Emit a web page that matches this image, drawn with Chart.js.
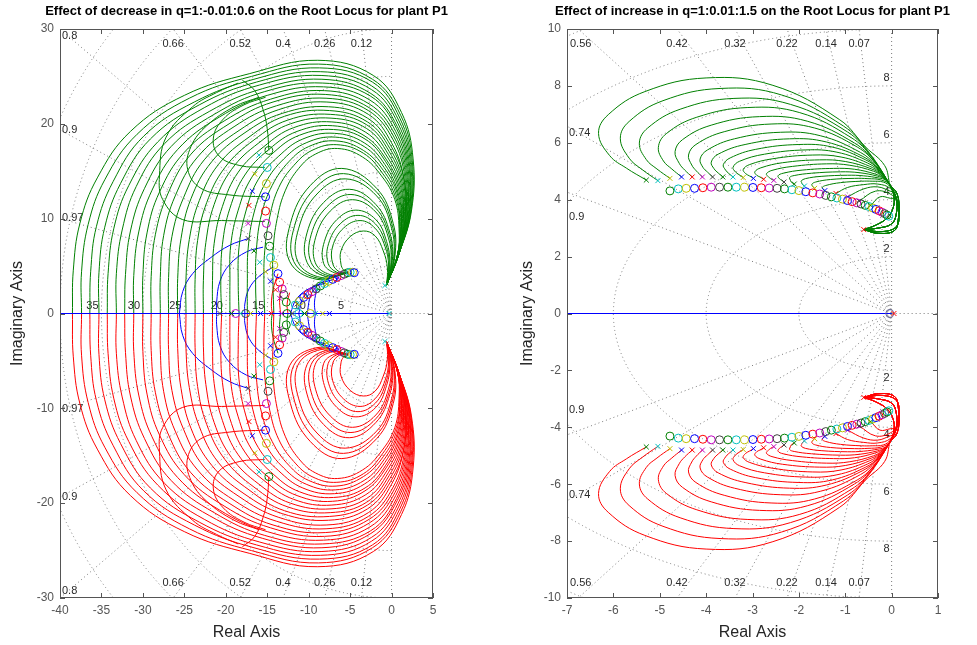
<!DOCTYPE html>
<html>
<head>
<meta charset="utf-8">
<script src="https://cdn.jsdelivr.net/npm/chart.js@4.4.0/dist/chart.umd.min.js"></script>
<style>
  body { margin: 0; background: #fff; width: 977px; height: 645px; overflow: hidden; position: relative; }
  canvas { position: absolute; top: 0; }
  #left { left: 0; }
  #right { left: 490px; }
</style>
</head>
<body>
<canvas id="left" width="490" height="645"></canvas>
<canvas id="right" width="487" height="645"></canvas>
<script>
// ---------- left plot: q = 1 : -0.01 : 0.6 (upper half, lower half is the conjugate) ----------
// big outer branches, from the real axis round to the pole near -0.6+3j
const leftArcs = [
  [[-38.5,0],[-38.4,4.5],[-37.6,9.5],[-35.5,14.3],[-31.5,19.2],[-25.0,23.0],[-17.1,25.3],[-8.9,26.7],[-2.2,25.1],[1.2,21.2],[2.6,16.3],[2.4,10.8],[0.9,6.3],[-0.6,3.0]],
  [[-37.4,0],[-37.4,4.4],[-36.6,9.4],[-34.6,14.1],[-30.7,18.9],[-24.4,22.7],[-16.9,25.0],[-8.8,26.3],[-2.3,24.7],[1.1,20.9],[2.5,16.1],[2.3,10.7],[0.9,6.3],[-0.6,3.0]],
  [[-36.4,0],[-36.3,4.4],[-35.6,9.2],[-33.6,13.9],[-29.9,18.7],[-23.8,22.3],[-16.6,24.7],[-8.7,25.9],[-2.3,24.4],[1.0,20.6],[2.4,15.9],[2.3,10.6],[0.9,6.3],[-0.6,3.0]],
  [[-35.3,0],[-35.3,4.3],[-34.6,9.1],[-32.7,13.7],[-29.1,18.4],[-23.2,22.0],[-16.3,24.4],[-8.6,25.5],[-2.4,24.0],[0.9,20.3],[2.3,15.7],[2.2,10.6],[0.9,6.3],[-0.6,3.0]],
  [[-34.3,0],[-34.2,4.2],[-33.5,9.0],[-31.7,13.5],[-28.2,18.1],[-22.6,21.7],[-15.9,24.1],[-8.5,25.1],[-2.4,23.6],[0.8,20.0],[2.2,15.5],[2.1,10.5],[0.9,6.3],[-0.6,3.0]],
  [[-33.2,0],[-33.2,4.2],[-32.5,8.8],[-30.8,13.4],[-27.4,17.9],[-22.0,21.3],[-15.6,23.7],[-8.4,24.7],[-2.5,23.2],[0.7,19.7],[2.1,15.4],[2.1,10.4],[0.9,6.3],[-0.6,3.0]],
  [[-32.2,0],[-32.1,4.1],[-31.5,8.7],[-29.8,13.2],[-26.6,17.6],[-21.4,21.0],[-15.3,23.4],[-8.3,24.3],[-2.5,22.9],[0.6,19.5],[2.0,15.2],[2.0,10.3],[0.9,6.3],[-0.6,3.0]],
  [[-31.1,0],[-31.1,4.0],[-30.5,8.6],[-28.9,13.0],[-25.8,17.3],[-20.8,20.7],[-15.0,23.0],[-8.2,23.9],[-2.6,22.5],[0.5,19.2],[1.9,15.0],[1.9,10.3],[0.9,6.3],[-0.6,3.0]],
  [[-30.0,0],[-30.0,4.0],[-29.5,8.5],[-28.0,12.8],[-25.0,17.0],[-20.2,20.3],[-14.6,22.6],[-8.1,23.5],[-2.7,22.1],[0.4,18.9],[1.8,14.8],[1.9,10.2],[0.8,6.2],[-0.6,3.0]],
  [[-29.0,0],[-29.0,3.9],[-28.5,8.3],[-27.0,12.6],[-24.2,16.8],[-19.6,20.0],[-14.3,22.3],[-8.0,23.1],[-2.7,21.7],[0.3,18.6],[1.7,14.6],[1.8,10.1],[0.8,6.2],[-0.6,3.0]],
  [[-27.9,0],[-27.9,3.8],[-27.5,8.2],[-26.1,12.4],[-23.4,16.5],[-19.0,19.7],[-13.9,21.9],[-7.9,22.7],[-2.8,21.4],[0.2,18.3],[1.6,14.4],[1.7,10.0],[0.8,6.2],[-0.6,3.0]],
  [[-26.9,0],[-26.9,3.8],[-26.5,8.1],[-25.1,12.2],[-22.6,16.2],[-18.4,19.3],[-13.6,21.5],[-7.8,22.3],[-2.8,21.0],[0.0,18.0],[1.5,14.2],[1.7,9.9],[0.8,6.2],[-0.6,3.0]],
  [[-25.8,0],[-25.8,3.7],[-25.4,7.9],[-24.2,12.1],[-21.7,16.0],[-17.8,19.0],[-13.2,21.1],[-7.6,21.8],[-2.9,20.6],[-0.1,17.7],[1.5,14.1],[1.6,9.9],[0.8,6.2],[-0.6,3.0]],
  [[-24.8,0],[-24.8,3.7],[-24.4,7.8],[-23.2,11.9],[-20.9,15.7],[-17.2,18.6],[-12.9,20.8],[-7.5,21.4],[-2.9,20.2],[-0.2,17.4],[1.4,13.9],[1.6,9.8],[0.8,6.2],[-0.6,3.0]],
  [[-23.7,0],[-23.7,3.6],[-23.4,7.7],[-22.3,11.7],[-20.1,15.4],[-16.6,18.3],[-12.5,20.4],[-7.4,21.0],[-3.0,19.9],[-0.3,17.1],[1.3,13.7],[1.5,9.7],[0.8,6.2],[-0.6,3.0]],
  [[-22.7,0],[-22.7,3.5],[-22.4,7.5],[-21.4,11.5],[-19.3,15.2],[-16.0,18.0],[-12.2,20.0],[-7.3,20.6],[-3.0,19.5],[-0.4,16.8],[1.2,13.5],[1.4,9.6],[0.8,6.2],[-0.6,3.0]],
  [[-21.6,0],[-21.6,3.5],[-21.4,7.4],[-20.4,11.3],[-18.5,14.9],[-15.4,17.6],[-11.8,19.6],[-7.2,20.2],[-3.1,19.1],[-0.5,16.5],[1.1,13.3],[1.4,9.5],[0.7,6.1],[-0.6,3.0]],
  [[-20.5,0],[-20.6,3.4],[-20.4,7.3],[-19.5,11.1],[-17.7,14.6],[-14.8,17.3],[-11.4,19.2],[-7.1,19.8],[-3.2,18.7],[-0.6,16.2],[1.0,13.1],[1.3,9.5],[0.7,6.1],[-0.6,3.0]],
  [[-19.5,0],[-19.5,3.3],[-19.4,7.2],[-18.5,10.9],[-16.9,14.3],[-14.2,17.0],[-11.1,18.8],[-7.0,19.4],[-3.2,18.4],[-0.7,16.0],[0.9,12.9],[1.2,9.4],[0.7,6.1],[-0.6,3.0]],
  [[-18.4,0],[-18.5,3.3],[-18.4,7.0],[-17.6,10.7],[-16.1,14.1],[-13.6,16.6],[-10.7,18.4],[-6.9,19.0],[-3.3,18.0],[-0.8,15.7],[0.8,12.7],[1.2,9.3],[0.7,6.1],[-0.6,3.0]],
  [[-17.4,0],[-17.4,3.2],[-17.3,6.9],[-16.6,10.6],[-15.2,13.8],[-13.0,16.3],[-10.3,18.0],[-6.8,18.6],[-3.3,17.6],[-0.9,15.4],[0.7,12.6],[1.1,9.2],[0.7,6.1],[-0.6,3.0]],
  [[-16.3,0],[-16.4,3.1],[-16.3,6.8],[-15.7,10.4],[-14.4,13.5],[-12.4,16.0],[-10.0,17.6],[-6.7,18.2],[-3.4,17.2],[-1.0,15.1],[0.6,12.4],[1.0,9.2],[0.7,6.1],[-0.6,3.0]],
  [[-15.3,0],[-15.4,3.1],[-15.3,6.6],[-14.7,10.2],[-13.6,13.3],[-11.8,15.6],[-9.6,17.2],[-6.6,17.8],[-3.4,16.9],[-1.1,14.8],[0.5,12.2],[1.0,9.1],[0.7,6.1],[-0.6,3.0]],
  [[-14.2,0],[-14.3,3.0],[-14.3,6.5],[-13.8,10.0],[-12.8,13.0],[-11.2,15.3],[-9.2,16.8],[-6.5,17.4],[-3.5,16.5],[-1.2,14.5],[0.4,12.0],[0.9,9.0],[0.7,6.1],[-0.6,3.0]]
];
// loops from the pole that curl back into the zero cluster near -5.3+4.3j
const leftLoops = [
  [[-0.6,3.0],[-0.5,4.8],[-1.0,6.6],[-2.0,8.2],[-3.4,8.7],[-5.0,8.1],[-6.1,6.6],[-6.1,5.2],[-5.8,4.6],[-5.3,4.3]],
  [[-0.6,3.0],[-0.35,5.0],[-0.8,7.1],[-2.0,9.0],[-3.8,9.8],[-5.8,9.0],[-7.1,7.1],[-7.1,5.25],[-6.3,4.4],[-5.3,4.3]],
  [[-0.6,3.0],[-0.28,5.1],[-0.7,7.35],[-1.95,9.45],[-4.05,10.35],[-6.2,9.45],[-7.6,7.35],[-7.65,5.28],[-6.6,4.35],[-5.3,4.3]],
  [[-0.6,3.0],[-0.2,5.2],[-0.6,7.6],[-1.9,9.9],[-4.3,10.9],[-6.6,9.9],[-8.1,7.6],[-8.2,5.3],[-6.9,4.3],[-5.3,4.3]],
  [[-0.6,3.0],[-0.05,5.4],[-0.4,8.05],[-1.9,10.7],[-4.7,12.0],[-7.4,10.8],[-9.15,8.05],[-9.2,5.35],[-7.4,4.1],[-5.3,4.3]],
  [[-0.6,3.0],[0.02,5.5],[-0.3,8.3],[-1.9,11.1],[-4.9,12.55],[-7.8,11.25],[-9.7,8.3],[-9.7,5.38],[-7.65,4.0],[-5.3,4.3]],
  [[-0.6,3.0],[0.1,5.6],[-0.2,8.5],[-1.9,11.5],[-5.1,13.1],[-8.2,11.7],[-10.2,8.5],[-10.2,5.4],[-7.9,3.9],[-5.3,4.3]],
  [[-0.6,3.0],[0.25,5.8],[0.0,9.0],[-1.8,12.4],[-5.6,14.2],[-9.0,12.6],[-11.2,9.0],[-11.3,5.45],[-8.5,3.8],[-5.3,4.3]],
  [[-0.6,3.0],[0.32,5.9],[0.1,9.25],[-1.8,12.8],[-5.8,14.75],[-9.4,13.05],[-11.7,9.25],[-11.8,5.48],[-8.75,3.7],[-5.3,4.3]],
  [[-0.6,3.0],[0.4,6.0],[0.2,9.5],[-1.8,13.2],[-6.0,15.3],[-9.8,13.5],[-12.2,9.5],[-12.3,5.5],[-9.0,3.6],[-5.3,4.3]]
];
// branches leaving the moving zeros near Re = -15 and bending up into the envelope
const leftInnerArcs = [
  [[-15.3,9.7],[-20.5,9.8],[-25.2,9.9],[-27.6,12.0],[-28.0,14.5],[-27.2,18.6],[-24.0,21.8],[-21.1,23.3],[-18.5,24.3]],
  [[-15.3,12.3],[-19.5,12.5],[-23.0,13.2],[-24.6,15.2],[-24.2,17.6],[-22.3,19.8],[-19.0,21.8],[-16.0,22.8]],
  [[-15.3,15.4],[-18.3,15.6],[-20.8,16.6],[-21.5,18.5],[-20.3,20.5],[-17.8,22.0],[-15.2,22.8]],
  [[-14.8,17.2],[-15.0,19.5],[-15.5,21.5],[-16.5,23.5],[-18.0,24.6]]
];
const leftBlueArcs = [
  [[-17.3,7.9],[-19.5,7.2],[-21.8,5.9],[-24.0,4.2],[-25.2,2.3],[-25.6,0]],
  [[-15.5,7.0],[-17.5,6.5],[-19.5,5.2],[-20.7,3.4],[-21.1,1.2],[-21.1,0]],
  [[-14.3,4.9],[-16.0,3.9],[-17.2,2.6],[-17.7,1.0],[-17.7,0]],
  [[-8.0,3.2],[-10.0,2.6],[-11.5,1.5],[-12.2,0]],
  [[-7.0,3.6],[-9.0,3.0],[-10.6,1.8],[-11.2,0]],
  [[-6.2,4.0],[-8.0,3.5],[-9.6,2.2],[-10.2,0]],
  [[-9.0,2.6],[-9.3,1.2],[-9.2,0]]
];
const leftRedArcs = [
  [[-13.7,4.2],[-14.3,2.5],[-14.5,1.0],[-14.4,0]],
  [[-13.2,3.0],[-13.5,1.6],[-13.4,0]],
  [[-12.3,2.2],[-12.6,1.0],[-12.5,0]]
];
const leftRealAxis = [[-40,0],[-0.3,0]];
const leftZeros = [
  [-14.8,17.2],[-15.0,15.4],[-15.1,13.7],[-15.2,12.3],[-15.2,10.8],[-15.1,9.5],[-14.9,8.2],[-14.7,7.1],
  [-14.6,5.9],[-14.2,5.1],[-13.7,4.2],[-13.5,3.3],[-13.2,2.6],[-13.0,2.0],[-12.7,1.2],
  [-11.6,0.9],[-11.1,1.3],[-10.6,1.7],[-10.1,2.0],[-9.6,2.3],[-9.1,2.6],[-8.6,2.9],[-8.1,3.15],
  [-7.6,3.4],[-7.1,3.6],[-6.6,3.8],[-6.1,4.0],[-5.7,4.15],[-5.3,4.3],[-5.0,4.35],[-4.7,4.35],[-4.5,4.3]
];
const leftPoles = [
  [-16.0,16.7],[-16.5,14.7],[-16.8,12.9],[-17.2,11.4],[-17.3,9.5],[-17.3,7.9],[-16.6,6.6],[-15.9,5.4],
  [-15.2,4.4],[-14.6,3.4],[-14.0,2.5],[-13.5,1.6],[-11.4,1.0],[-10.2,1.8],[-9.0,2.5],[-7.8,3.1],[-6.6,3.6]
];
const leftAxisPoles = [[-20.7,0],[-19.3,0],[-18.2,0],[-17.0,0],[-15.8,0],[-14.5,0],[-13.3,0],[-12.0,0],[-10.5,0],[-9.2,0],[-8.3,0],[-7.5,0]];
const leftAxisZeros = [[-18.8,0],[-17.6,0],[-12.6,0],[-11.2,0],[-9.8,0]];
const leftFixedPoles = [[-0.8,2.95],[-0.8,-2.95],[-0.3,0]];
const leftZetas = [0.12, 0.26, 0.4, 0.52, 0.66, 0.8, 0.9, 0.97];
const leftWns = [5, 10, 15, 20, 25, 30, 35, 40, 45];
const leftWnLabels = [5, 10, 15, 20, 25, 30, 35];

// ---------- right plot: q = 1 : 0.01 : 1.5 ----------
// start of every branch at the pole -0.6+2.95j (several paths through the dense tongue)
const rightTongues = [
  [[-0.6,2.95],[-0.3,2.82],[0.05,2.9],[0.14,3.25],[0.13,3.9]],
  [[-0.6,2.95],[-0.3,3.0],[0.0,3.15],[0.1,3.5],[0.1,4.0]],
  [[-0.6,2.95],[-0.35,3.1],[-0.1,3.35],[0.03,3.7],[0.05,4.1]],
  [[-0.6,2.95],[-0.2,2.88],[0.1,3.05],[0.16,3.5],[0.12,4.2]]
];
const rightLoops = [
  [[-0.03,4.5],[-0.15,5.2],[-0.56,5.85],[-1.12,6.81],[-2.56,8.02],[-4.0,8.28],[-5.32,7.80],[-6.11,6.99],[-6.32,6.33],[-6.08,5.55],[-5.72,5.11],[-5.29,4.69]],
  [[-0.03,4.5],[-0.52,5.73],[-1.04,6.59],[-2.37,7.68],[-3.7,7.91],[-4.93,7.48],[-5.66,6.75],[-5.85,6.16],[-5.66,5.46],[-5.38,5.06],[-5.04,4.67]],
  [[-0.03,4.5],[-0.48,5.61],[-0.95,6.38],[-2.18,7.35],[-3.4,7.56],[-4.56,7.18],[-5.26,6.52],[-5.44,5.99],[-5.29,5.41],[-5.06,5.08],[-4.78,4.75]],
  [[-0.03,4.5],[-0.43,5.50],[-0.87,6.18],[-1.98,7.06],[-3.1,7.24],[-4.20,6.90],[-4.86,6.32],[-5.03,5.84],[-4.92,5.36],[-4.74,5.08],[-4.53,4.8]],
  [[-0.03,4.5],[-0.40,5.39],[-0.80,5.99],[-1.82,6.76],[-2.85,6.92],[-3.89,6.62],[-4.51,6.11],[-4.67,5.69],[-4.58,5.28],[-4.46,5.04],[-4.30,4.8]],
  [[-0.03,4.5],[-0.36,5.30],[-0.73,5.84],[-1.66,6.52],[-2.6,6.66],[-3.61,6.39],[-4.22,5.94],[-4.38,5.57],[-4.31,5.22],[-4.21,5.01],[-4.08,4.8]],
  [[-0.03,4.5],[-0.34,5.20],[-0.67,5.66],[-1.54,6.25],[-2.4,6.37],[-3.39,6.14],[-3.97,5.75],[-4.13,5.43],[-4.07,5.14],[-3.97,4.97],[-3.86,4.8]],
  [[-0.03,4.5],[-0.31,5.12],[-0.62,5.52],[-1.41,6.03],[-2.2,6.14],[-3.16,5.94],[-3.74,5.60],[-3.89,5.32],[-3.83,5.09],[-3.74,4.94],[-3.64,4.8]],
  [[-0.03,4.5],[-0.28,5.06],[-0.56,5.40],[-1.28,5.85],[-2.0,5.94],[-2.93,5.77],[-3.48,5.47],[-3.63,5.23],[-3.58,5.04],[-3.51,4.92],[-3.42,4.8]],
  [[-0.03,4.5],[-0.26,4.99],[-0.52,5.29],[-1.18,5.67],[-1.85,5.75],[-2.74,5.60],[-3.28,5.35],[-3.42,5.14],[-3.37,4.98],[-3.29,4.88],[-3.20,4.78]],
  [[-0.03,4.5],[-0.24,4.93],[-0.48,5.18],[-1.09,5.50],[-1.7,5.57],[-2.56,5.44],[-3.07,5.23],[-3.20,5.06],[-3.15,4.92],[-3.07,4.84],[-2.98,4.75]],
  [[-0.03,4.5],[-0.22,4.87],[-0.43,5.08],[-0.99,5.34],[-1.55,5.40],[-2.35,5.30],[-2.82,5.12],[-2.95,4.98],[-2.91,4.86],[-2.84,4.80],[-2.76,4.72]],
  [[-0.03,4.5],[-0.20,4.82],[-0.39,5.0],[-0.90,5.21],[-1.4,5.26],[-2.14,5.17],[-2.58,5.03],[-2.70,4.91],[-2.66,4.81],[-2.61,4.74],[-2.54,4.68]],
  [[-0.03,4.5],[-0.18,4.77],[-0.35,4.90],[-0.80,5.07],[-1.25,5.10],[-1.93,5.04],[-2.34,4.93],[-2.45,4.84],[-2.42,4.74],[-2.37,4.68],[-2.32,4.62]],
  [[-0.03,4.5],[-0.15,4.73],[-0.31,4.83],[-0.70,4.95],[-1.1,4.98],[-1.73,4.93],[-2.10,4.85],[-2.20,4.78],[-2.18,4.67],[-2.16,4.61],[-2.10,4.55]],
  [[-0.03,4.5],[-0.13,4.69],[-0.27,4.76],[-0.61,4.84],[-0.95,4.86],[-1.52,4.82],[-1.86,4.74],[-1.95,4.66],[-1.94,4.6],[-1.92,4.53],[-1.88,4.48]],
  [[-0.03,4.5],[-0.22,4.69],[-0.51,4.74],[-0.8,4.75],[-1.32,4.71],[-1.64,4.62],[-1.72,4.54],[-1.69,4.44],[-1.66,4.40]],
  [[-0.03,4.45],[-0.18,4.62],[-0.42,4.65],[-0.65,4.65],[-1.1,4.6],[-1.42,4.5],[-1.50,4.42],[-1.44,4.32]],
  [[-0.03,4.4],[-0.3,4.55],[-0.6,4.53],[-0.95,4.43],[-1.2,4.22]],
  [[-0.03,4.3],[-0.3,4.45],[-0.6,4.38],[-0.95,4.1]],
  [[-0.03,4.2],[-0.35,4.3],[-0.7,3.95]],
  [[-0.03,4.05],[-0.25,4.1],[-0.45,3.8]]
];
const rightRealAxis = [[-8,0],[0,0]];
const rightZeros = [
  [-4.78,4.31],[-4.6,4.38],[-4.43,4.40],[-4.25,4.40],[-4.07,4.42],[-3.89,4.44],[-3.71,4.44],[-3.53,4.44],
  [-3.35,4.44],[-3.17,4.44],[-2.99,4.43],[-2.81,4.42],[-2.64,4.41],[-2.47,4.40],[-2.31,4.38],[-2.15,4.35],
  [-2.0,4.32],[-1.85,4.28],[-1.7,4.24],[-1.55,4.2],[-1.42,4.15],[-1.3,4.1],[-1.18,4.06],[-1.06,4.02],
  [-0.95,3.97],[-0.85,3.93],[-0.75,3.89],[-0.66,3.85],[-0.57,3.8],[-0.49,3.76],[-0.41,3.71],[-0.34,3.66],
  [-0.27,3.61],[-0.21,3.56],[-0.15,3.51],[-0.1,3.46],[-0.06,3.42]
];
const rightPoles = [
  [-5.29,4.69],[-5.04,4.67],[-4.78,4.75],[-4.53,4.8],[-4.30,4.8],[-4.08,4.8],[-3.86,4.8],[-3.64,4.8],
  [-3.42,4.8],[-3.20,4.78],[-2.98,4.75],[-2.76,4.72],[-2.54,4.68],[-2.32,4.62],[-2.10,4.55],[-1.88,4.48],
  [-1.66,4.40],[-1.44,4.32],[-1.2,4.22],[-0.95,4.1],[-0.7,3.95],[-0.45,3.8]
];
const rightFixedPoles = [[-0.6,2.95],[-0.6,-2.95],[0.05,0]];
const rightZetas = [0.07, 0.14, 0.22, 0.32, 0.42, 0.56, 0.74, 0.9];
const rightWns = [2, 4, 6, 8, 10, 12];
const rightWnLabels = [2, 4, 6, 8];

// ---------- helpers ----------
const COL = { b: '#0000ff', g: '#008000', r: '#ff0000', c: '#00bfbf', m: '#bf00bf', y: '#bfbf00', k: '#404040' };
const cycle = ['g', 'c', 'y', 'b', 'r', 'm', 'k'];
const FONT = '"Liberation Sans", Arial, Helvetica, sans-serif';
const toXY = a => a.map(([x, y]) => ({ x, y }));
const conj = a => a.map(([x, y]) => [x, -y]);

function curve(a, color) {
  return { data: toXY(a), showLine: true, borderColor: color, borderWidth: 1, pointRadius: 0, pointHoverRadius: 0, tension: 0.4, order: 2 };
}
function marks(a, style, offset, fixedColor) {
  return {
    data: toXY(a), showLine: false, pointStyle: style,
    pointRadius: style === 'circle' ? 4 : 3.5, pointHoverRadius: 0, pointBorderWidth: 1,
    pointBackgroundColor: 'rgba(0,0,0,0)',
    pointBorderColor: fixedColor || a.map((_, i) => COL[cycle[(i + offset) % 7]]),
    order: 0
  };
}
// upper branch in one colour, its conjugate in the other
function pair(list, up, down, out) {
  list.forEach(a => { out.push(curve(a, up)); out.push(curve(conj(a), down)); });
}

// s-plane grid: damping rays, natural frequency circles and their labels
const sgridPlugin = {
  id: 'sgrid',
  beforeDatasetsDraw(chart, args, o) {
    const { ctx, chartArea: a } = chart;
    const sx = chart.scales.x, sy = chart.scales.y;
    const px = v => sx.getPixelForValue(v), py = v => sy.getPixelForValue(v);
    const x0 = px(0), y0 = py(0), kx = px(1) - x0, ky = y0 - py(1);
    ctx.save();
    ctx.beginPath(); ctx.rect(a.left, a.top, a.width, a.height); ctx.clip();
    ctx.strokeStyle = '#7a7a7a'; ctx.lineWidth = 1; ctx.setLineDash([1, 3]);
    o.zetas.forEach(z => {
      const s = Math.sqrt(1 - z * z);
      [1, -1].forEach(sg => {
        ctx.beginPath(); ctx.moveTo(x0, y0); ctx.lineTo(px(-z * 1000), py(sg * s * 1000)); ctx.stroke();
      });
    });
    ctx.beginPath();
    ctx.moveTo(x0, a.top); ctx.lineTo(x0, a.bottom);
    ctx.moveTo(x0, y0); ctx.lineTo(a.right, y0);
    ctx.stroke();
    o.wns.forEach(w => {
      ctx.beginPath(); ctx.ellipse(x0, y0, w * kx, w * ky, 0, Math.PI / 2, Math.PI * 1.5); ctx.stroke();
    });
    ctx.setLineDash([]);
    ctx.fillStyle = '#2a2a2a'; ctx.font = '11px ' + FONT; ctx.textBaseline = 'middle';
    o.zetas.forEach(z => {
      const s = Math.sqrt(1 - z * z), t = String(z), w = ctx.measureText(t).width;
      const xTop = -z / s * sy.max;
      if (xTop > sx.min + 0.01) {
        const cx = Math.max(px(xTop), a.left + w / 2 + 3);
        ctx.textAlign = 'center';
        ctx.fillText(t, cx, a.top + 15);
        ctx.fillText(t, cx, a.bottom - 15);
      } else {
        const yl = -sx.min * s / z;
        ctx.textAlign = 'left';
        ctx.fillText(t, a.left + 2, Math.max(py(yl), a.top + 7));
        ctx.fillText(t, a.left + 2, Math.min(py(-yl), a.bottom - 7));
      }
    });
    ctx.textAlign = 'center';
    o.wnLabels.forEach(w => {
      if (o.wnOnReal) {
        ctx.fillText(String(w), px(-w) - 9, y0 - 8);
      } else {
        ctx.fillText(String(w), x0 - 5, py(w) - 8);
        ctx.fillText(String(w), x0 - 5, py(-w) + 8);
      }
    });
    ctx.restore();
  }
};

// box with inward ticks on all sides, title and axis names
const framePlugin = {
  id: 'frame',
  afterDraw(chart, args, o) {
    const { ctx, chartArea: a } = chart;
    const sx = chart.scales.x, sy = chart.scales.y;
    ctx.save();
    ctx.strokeStyle = '#555'; ctx.lineWidth = 1;
    ctx.strokeRect(Math.round(a.left) + 0.5, Math.round(a.top) + 0.5, Math.round(a.width) - 1, Math.round(a.height) - 1);
    ctx.beginPath();
    sx.ticks.forEach(t => {
      const p = Math.round(sx.getPixelForValue(t.value)) + 0.5;
      ctx.moveTo(p, a.bottom); ctx.lineTo(p, a.bottom - 5);
      ctx.moveTo(p, a.top); ctx.lineTo(p, a.top + 5);
    });
    sy.ticks.forEach(t => {
      const p = Math.round(sy.getPixelForValue(t.value)) + 0.5;
      ctx.moveTo(a.left, p); ctx.lineTo(a.left + 5, p);
      ctx.moveTo(a.right, p); ctx.lineTo(a.right - 5, p);
    });
    ctx.stroke();
    const cx = (a.left + a.right) / 2;
    ctx.textAlign = 'center'; ctx.textBaseline = 'middle';
    ctx.fillStyle = '#000'; ctx.font = 'bold 13px ' + FONT;
    ctx.fillText(o.title, cx, 11);
    ctx.fillStyle = '#262626'; ctx.font = '16px ' + FONT;
    ctx.fillText('Real Axis', cx, 633);
    ctx.translate(o.yNameX, (a.top + a.bottom) / 2);
    ctx.rotate(-Math.PI / 2);
    ctx.fillText('Imaginary Axis', 0, 0);
    ctx.restore();
  }
};

function rootLocusChart(id, c) {
  const tick = { color: '#555', font: { family: FONT, size: 12 }, autoSkip: false, maxRotation: 0 };
  return new Chart(document.getElementById(id), {
    type: 'scatter',
    data: { datasets: c.datasets },
    options: {
      responsive: false, animation: false, events: [],
      layout: { padding: { left: 0, top: 29, right: c.padRight, bottom: 0 } },
      plugins: {
        legend: { display: false }, tooltip: { enabled: false },
        sgrid: c.grid, frame: c.frame
      },
      scales: {
        x: {
          type: 'linear', min: c.xMin, max: c.xMax,
          ticks: Object.assign({ stepSize: c.xStep, padding: 5 }, tick),
          grid: { display: false, drawTicks: false }, border: { display: false },
          afterFit: s => { s.height = 47; }
        },
        y: {
          type: 'linear', min: c.yMin, max: c.yMax,
          ticks: Object.assign({ stepSize: c.yStep, padding: 6 }, tick),
          grid: { display: false, drawTicks: false }, border: { display: false },
          afterFit: s => { s.width = c.axisWidth; }
        }
      }
    },
    plugins: [sgridPlugin, framePlugin]
  });
}

// ---------- left chart ----------
const leftSets = [];
pair(leftArcs, COL.g, COL.r, leftSets);
pair(leftLoops, COL.g, COL.r, leftSets);
pair(leftInnerArcs, COL.g, COL.r, leftSets);
pair(leftRedArcs, COL.r, COL.g, leftSets);
pair(leftBlueArcs, COL.b, COL.b, leftSets);
leftSets.push(Object.assign(curve(leftRealAxis, COL.b), { tension: 0, order: 1 }));
leftSets.push(marks(leftZeros, 'circle', 0), marks(conj(leftZeros), 'circle', 0));
leftSets.push(marks(leftPoles, 'crossRot', 1), marks(conj(leftPoles), 'crossRot', 1));
leftSets.push(marks(leftAxisPoles, 'crossRot', 6), marks(leftAxisZeros, 'circle', 5));
leftSets.push(marks(leftFixedPoles, 'crossRot', 0, COL.c));

rootLocusChart('left', {
  datasets: leftSets, xMin: -40, xMax: 5, xStep: 5, yMin: -30, yMax: 30, yStep: 10,
  axisWidth: 60, padRight: 490 - 433,
  grid: { zetas: leftZetas, wns: leftWns, wnLabels: leftWnLabels, wnOnReal: true },
  frame: { title: 'Effect of decrease in q=1:-0.01:0.6 on the Root Locus for plant P1', yNameX: 18 }
});

// ---------- right chart ----------
const rightSets = [];
const rightBranches = rightLoops.map((l, i) => rightTongues[i % rightTongues.length].concat(l));
pair(rightBranches, COL.g, COL.r, rightSets);
rightSets.push(Object.assign(curve(rightRealAxis, COL.b), { tension: 0, order: 1 }));
rightSets.push(marks(rightZeros, 'circle', 0), marks(conj(rightZeros), 'circle', 0));
rightSets.push(marks(rightPoles, 'crossRot', 0), marks(conj(rightPoles), 'crossRot', 0));
rightSets.push(marks(rightFixedPoles, 'crossRot', 0, COL.r));
rightSets.push(marks([[-0.04, 0]], 'circle', 0, '#6a6a9a'));

rootLocusChart('right', {
  datasets: rightSets, xMin: -7, xMax: 1, xStep: 1, yMin: -10, yMax: 10, yStep: 2,
  axisWidth: 567 - 490, padRight: 487 - 448,
  grid: { zetas: rightZetas, wns: rightWns, wnLabels: rightWnLabels, wnOnReal: false },
  frame: { title: 'Effect of increase in q=1:0.01:1.5 on the Root Locus for plant P1', yNameX: 528 - 490 }
});
</script>
</body>
</html>
